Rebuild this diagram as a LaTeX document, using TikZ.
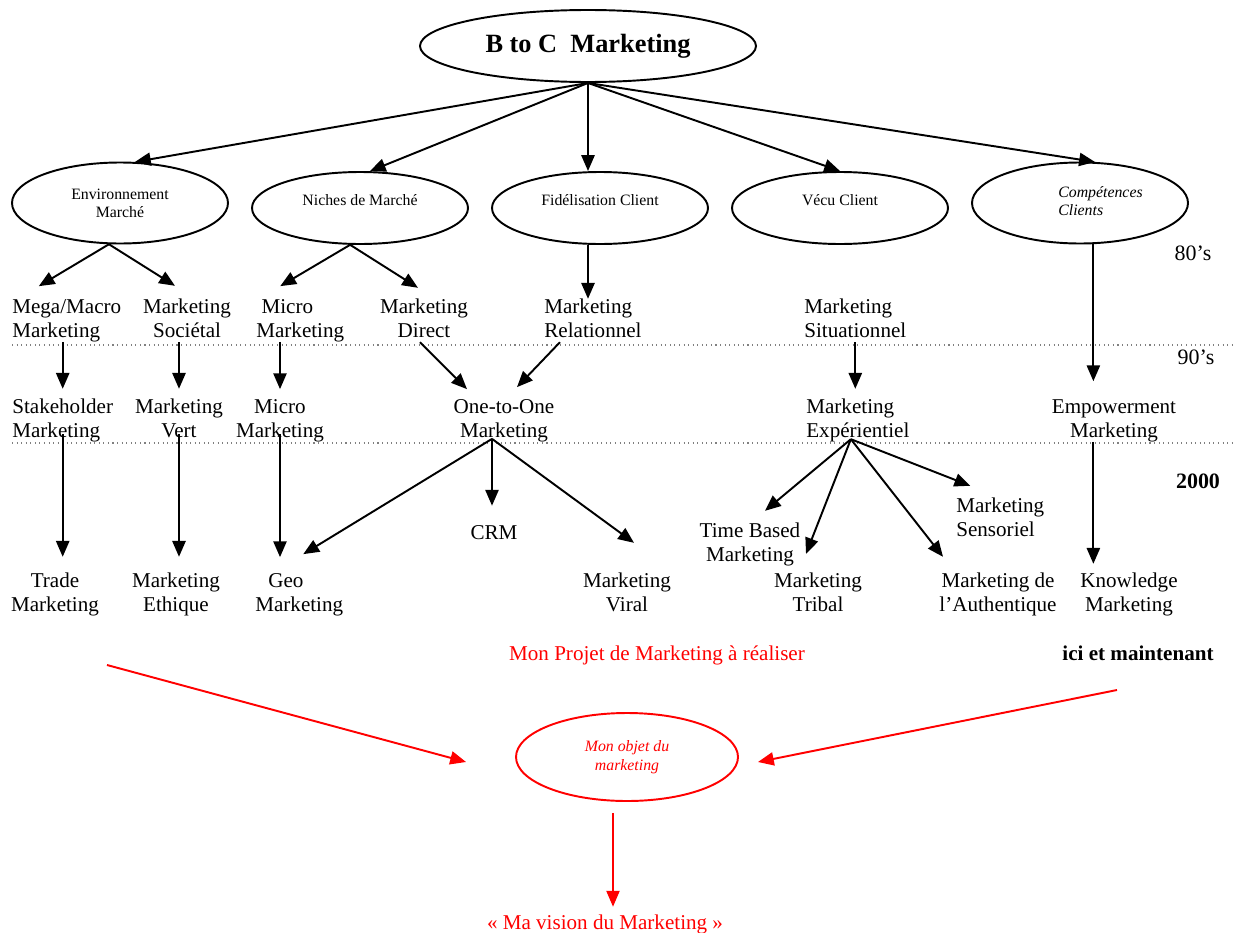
\documentclass[tikz,border=0pt]{standalone}
\usepackage{fontspec}
\setmainfont{Liberation Serif}
\usetikzlibrary{arrows.meta,calc,positioning,shapes.geometric}

\begin{document}
\begin{tikzpicture}[x=0.02cm,y=-0.02cm]
\def\pxl{0.02cm}
\tikzstyle{bk}=[font=\fontsize{12}{13.6}\selectfont,align=center,inner sep=0pt,execute at begin node=\strut,execute at end node=\strut]
\tikzstyle{bkl}=[bk,align=left,anchor=west]
\tikzstyle{ov}=[draw,ellipse,line width=1.1pt,inner sep=0pt,minimum width={216*\pxl},font=\fontsize{9}{10.2}\selectfont,align=center]
\tikzstyle{ovtop}=[ov,text height=6pt,text depth=9.4pt]
\tikzstyle{ovlabel}=[font=\itshape\fontsize{9}{10.2}\selectfont,align=left,inner sep=0pt,anchor=west]
\tikzstyle{era}=[font=\fontsize{12.5}{14}\selectfont,inner sep=0pt]
\tikzstyle{ar}=[line width=1.1pt,-{Triangle[length=9pt,width=7.5pt]}]
\tikzstyle{arred}=[ar,red]
\tikzstyle{yearline}=[gray,dotted,line width=0.6pt]

\useasboundingbox (0,0) rectangle (1234,933);

% top and first level
\draw node[ov,minimum width={336*\pxl},minimum height={72*\pxl},font=\bfseries\fontsize{15}{18}\selectfont] (title) at (588,46) {B to C\ \ Marketing}
      node[ov,minimum height={81*\pxl}] (env) at (120,203) {Environnement\\Marché}
      node[ovtop,minimum height={72*\pxl}] (niche) at (360,208) {Niches de Marché}
      node[ovtop,minimum height={72*\pxl}] (fid) at (600,208) {Fidélisation Client}
      node[ovtop,minimum height={72*\pxl}] (vecu) at (840,208) {Vécu Client}
      node[ov,minimum height={81*\pxl}] (comp) at (1080,203) {}
      node[ovlabel] (compt) at (1058,201) {Compétences\\Clients};

% 80's
\draw node[bkl] (mega) at (12,322) {Mega/Macro\\Marketing}
      node[bk] (soc) at (187,322) {Marketing\\Sociétal}
      node[bkl] (mica) at (256,322) {\hspace*{3pt}Micro\\Marketing}
      node[bk] (dir) at (424,322) {Marketing\\Direct}
      node[bkl] (rel) at (544,322) {Marketing\\Relationnel}
      node[bkl] (sit) at (804,322) {Marketing\\Situationnel};

% 90's
\draw node[bkl] (stake) at (12,422) {Stakeholder\\Marketing}
      node[bk] (vert) at (179,422) {Marketing\\Vert}
      node[bk] (micb) at (280,422) {Micro\\Marketing}
      node[bk] (one) at (504,422) {One-to-One\\Marketing}
      node[bkl] (exp) at (806,422) {Marketing\\Expérientiel}
      node[bk] (emp) at (1114,422) {Empowerment\\Marketing};

% 2000
\draw node[bk] (trade) at (55,596) {Trade\\Marketing}
      node[bk] (eth) at (176,596) {Marketing\\Ethique}
      node[bkl] (geo) at (255,596) {\hspace*{7.4pt}Geo\\Marketing}
      node[bk] (crm) at (494,535) {CRM}
      node[bk] (viral) at (627,596) {Marketing\\Viral}
      node[bk] (time) at (750,546) {Time Based\\Marketing}
      node[bk] (tribal) at (818,596) {Marketing\\Tribal}
      node[bkl] (sens) at (956,521) {Marketing\\Sensoriel}
      node[bk] (auth) at (998,596) {Marketing de\\l’Authentique}
      node[bk] (know) at (1129,596) {Knowledge\\Marketing};

% decades
\draw node[era] (e80) at (1193,253) {80’s}
      node[era] (e90) at (1196,357) {90’s}
      node[era,font=\bfseries\fontsize{12.5}{14}\selectfont] (e00) at (1198,481) {2000};
\draw[yearline] (12,345) -- (1234,345);
\draw[yearline] (12,443) -- (1234,443);

% my project
\draw node[bk,text=red] (proj) at (657,656) {Mon Projet de Marketing à réaliser}
      node[bk,font=\bfseries\fontsize{12}{13.6}\selectfont] (ici) at (1138,656) {ici et maintenant}
      node[ov,draw=red,text=red,minimum width={222*\pxl},minimum height={88*\pxl},font=\itshape\fontsize{9}{10.8}\selectfont] (objet) at (627,757) {Mon objet du\\marketing}
      node[bk,text=red] (vision) at (605,925) {« Ma vision du Marketing »};

% title to first level
\draw[ar] (title.south) -- (env.70);
\draw[ar] (title.south) -- (niche.75);
\draw[ar] (title.south) -- (title.south |- fid.north);
\draw[ar] (title.south) -- (vecu.north);
\draw[ar] (title.south) -- (comp.70);

% first level to 80's
\draw[ar] (env.255) -- ($(mega.north)+(-28,-13)$);
\draw[ar] (env.255) -- ($(soc.north)+(-12,-13)$);
\draw[ar] (niche.255) -- ($(mica.north)+(-20,-13)$);
\draw[ar] (niche.255) -- ($(dir.north)+(-6,-11)$);
\draw[ar] (title.south |- fid.south) -- (title.south |- rel.north);
\draw[ar] (comp.288) -- ($(comp.288 |- emp.north)+(0,-18)$);

% 80's to 90's
\draw[ar] ($(stake.north |- mega.south)+(0,-3)$) -- ($(stake.north)+(0,-10)$);
\draw[ar] ($(vert.north |- soc.south)+(0,-3)$) -- ($(vert.north)+(0,-10)$);
\draw[ar] ($(micb.north |- mica.south)+(0,-3)$) -- ($(micb.north)+(0,-10)$);
\draw[ar] ($(dir.south)+(-4,-3)$) -- ($(one.north)+(-37,-10)$);
\draw[ar] ($(rel.south)+(-33,-3)$) -- ($(one.north)+(13,-12)$);
\draw[ar] ($(sit.south)+(0,-3)$) -- ($(sit.south |- exp.north)+(0,-10)$);

% 90's to 2000
\coordinate (hub1) at ($(one.south)+(-12,-6)$);
\coordinate (hub2) at ($(exp.south)+(-7,-6)$);
\draw[ar] ($(stake.south)+(0,-11)$) -- ($(stake.south |- trade.north)+(0,-16)$);
\draw[ar] ($(vert.south)+(0,-11)$) -- ($(vert.south |- eth.north)+(0,-16)$);
\draw[ar] ($(micb.south)+(0,-11)$) -- ($(micb.south |- geo.north)+(0,-16)$);
\draw[ar] (hub1) -- ($(geo.north)+(4,-19)$);
\draw[ar] (hub1) -- ($(hub1 |- crm.north)+(0,-17)$);
\draw[ar] (hub1) -- ($(viral.north)+(7,-30)$);
\draw[ar] (hub2) -- ($(time.north)+(15,-12)$);
\draw[ar] (hub2) -- ($(tribal.north)+(-12,-19)$);
\draw[ar] (hub2) -- ($(auth.north)+(-55,-16)$);
\draw[ar] (hub2) -- ($(sens.north)+(-30,-12)$);
\draw[ar] ($(comp.288 |- emp.south)+(0,-3)$) -- ($(comp.288 |- know.north)+(0,-9)$);

% red arrows
\coordinate (pl) at (107,665);
\coordinate (pr) at (1117,690);
\draw[arred] (pl) -- ($(objet.west)+(-49,5)$);
\draw[arred] (pr) -- ($(objet.east)+(19,5)$);
\draw[arred,line width=0.8pt] ($(objet.south)+(-14,11)$) -- ($(objet.south |- vision.north)+(-14,-6)$);
\end{tikzpicture}
\end{document}
